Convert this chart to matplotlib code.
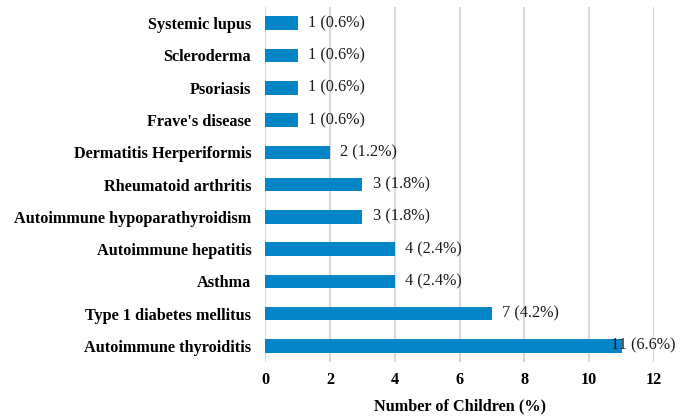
import matplotlib
matplotlib.use("Agg")
import matplotlib.pyplot as plt

categories = ["Autoimmune thyroiditis", "Type 1 diabetes mellitus", "Asthma",
              "Autoimmune hepatitis", "Autoimmune hypoparathyroidism",
              "Rheumatoid arthritis", "Dermatitis Herperiformis", "Frave's disease",
              "Psoriasis", "Scleroderma", "Systemic lupus"]
counts = [11, 7, 4, 4, 3, 3, 2, 1, 1, 1, 1]
percents = [6.6, 4.2, 2.4, 2.4, 1.8, 1.8, 1.2, 0.6, 0.6, 0.6, 0.6]
xticks = [0, 2, 4, 6, 8, 10, 12]

plt.rcParams['font.family'] = ['Liberation Serif', 'DejaVu Serif']

fig = plt.figure(figsize=(6.87, 4.18), dpi=100)
ax = fig.add_axes([0.386, 0.134, 0.566, 0.849])

fs = 11.7
ypos = list(range(len(categories)))
ax.barh(ypos, counts, height=0.42, color='#0684C8', zorder=3)
for y, c, p in zip(ypos, counts, percents):
    off = 7.5 if c < 11 else -8
    ax.annotate(f"{c} ({p}%)", xy=(c, y), xytext=(off, 0), textcoords='offset points',
                va='center', ha='left', fontsize=fs, color='#1a1a1a', zorder=4)

ax.set_yticks(ypos)
ax.set_yticklabels(categories, fontsize=fs, fontweight='bold')
ax.set_xticks(xticks)
ax.set_xticklabels([str(t) for t in xticks], fontsize=fs, fontweight='bold')
ax.set_xlim(0, 12)
ax.set_ylim(-0.5, 10.5)
ax.tick_params(axis='x', length=0, pad=7)
ax.tick_params(axis='y', length=0, pad=10)
ax.grid(axis='x', color='#d9d9d9', linewidth=1.5, zorder=0)
for s in ax.spines.values():
    s.set_visible(False)
ax.set_xlabel("Number of Children (%)", fontsize=fs, fontweight='bold', labelpad=8)

fig.savefig("out.png", dpi=100)
